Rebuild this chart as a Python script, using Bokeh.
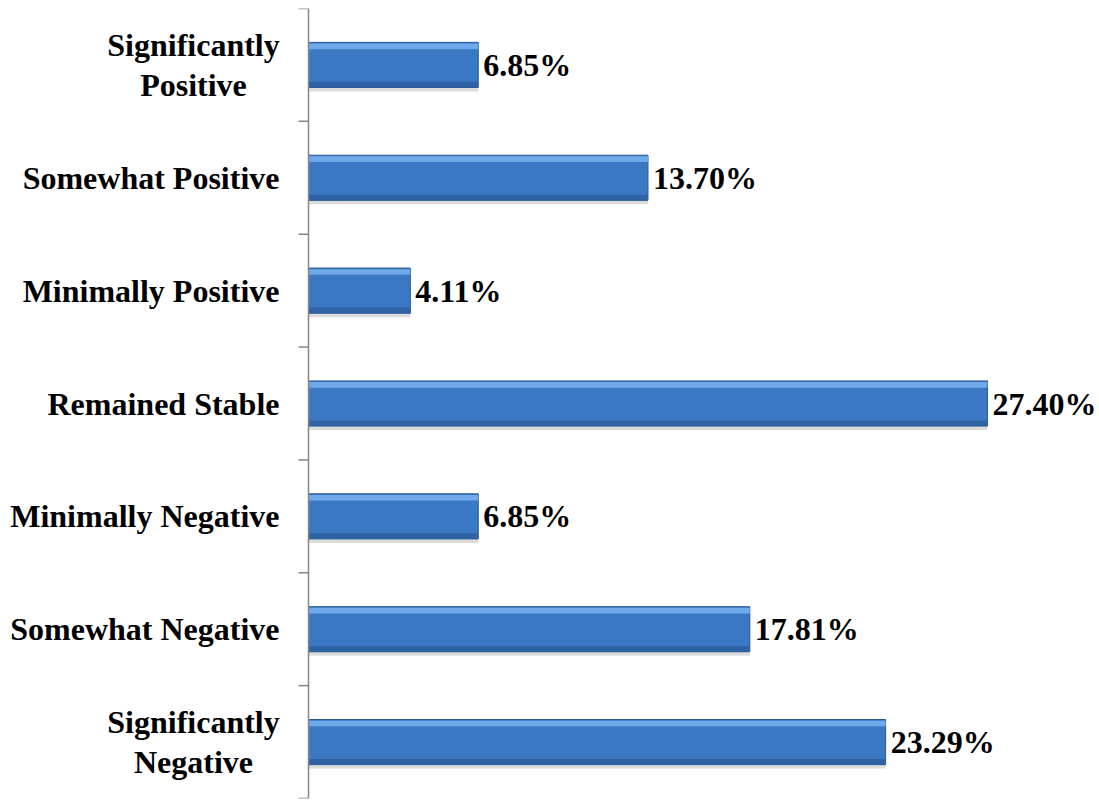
import math
from bokeh.plotting import figure
from bokeh.models import Range1d, ColumnDataSource, Span
from bokeh.core.properties import value
from bokeh.embed import file_html
from bokeh.resources import INLINE

categories = ["Significantly\nNegative", "Somewhat Negative", "Minimally Negative",
              "Remained Stable", "Minimally Positive", "Somewhat Positive",
              "Significantly\nPositive"]
values = [23.29, 17.81, 6.85, 27.40, 4.11, 13.70, 6.85]
labels = [f"{v:.2f}%" for v in values]

n = len(categories)
centers = [i + 0.5 for i in range(n)]
boundaries = [float(i) for i in range(n + 1)]

src = ColumnDataSource(dict(y=centers, v=values, lab=labels,
                            ys=[c - 0.035 for c in centers],
                            yt=[c + 0.165 for c in centers],
                            yb=[c - 0.175 for c in centers]))

multi = ["\n" in c for c in categories]
cat_src = ColumnDataSource(dict(
    x=[0.0] * n, y=centers, t=categories,
    align=["center" if m else "right" for m in multi],
    xo=[-115 if m else -29 for m in multi]))

FONT = value("Liberation Serif")

p = figure(width=1099, height=800, output_backend="svg", toolbar_location=None,
           x_range=Range1d(-308 / 24.78, (1099 - 308) / 24.78), y_range=Range1d(0, 7),
           min_border_left=0, min_border_right=0, min_border_top=8, min_border_bottom=2)
p.outline_line_color = None
p.xgrid.visible = False
p.ygrid.visible = False
p.xaxis.visible = False
p.yaxis.visible = False

# shadow
p.hbar(y="ys", right="v", left=0, height=0.40, source=src, fill_color="#9a9a9a",
       fill_alpha=0.35, line_color=None)
# main bar
p.hbar(y="y", right="v", left=0, height=0.40, source=src, fill_color="#3b78c4",
       line_color="#2c5a92", line_width=1)
# top highlight
p.hbar(y="yt", right="v", left=0, height=0.05, source=src, fill_color="#6fa9ea",
       line_color=None)
# bottom darker strip
p.hbar(y="yb", right="v", left=0, height=0.05, source=src, fill_color="#2f62a2",
       line_color=None)

# value labels
p.text(x="v", y="y", text="lab", source=src, x_offset=5, text_align="left",
       text_baseline="middle", text_font=FONT,
       text_font_style="bold", text_font_size="32px", text_color="black")

# category axis: line, boundary ticks, labels
p.add_layout(Span(location=0, dimension="height", line_color="#868686", line_width=1.5))
p.ray(x=[0.0] * (n + 1), y=boundaries, length=10, length_units="screen",
      angle=math.pi, line_color="#868686", line_width=1.5)
p.text(x="x", y="y", text="t", source=cat_src, x_offset="xo", text_align="align",
       text_baseline="middle", text_font=FONT, text_font_style="bold",
       text_font_size="32px", text_color="black", text_line_height=1.1)

open("out.html", "w").write(file_html(p, INLINE))
